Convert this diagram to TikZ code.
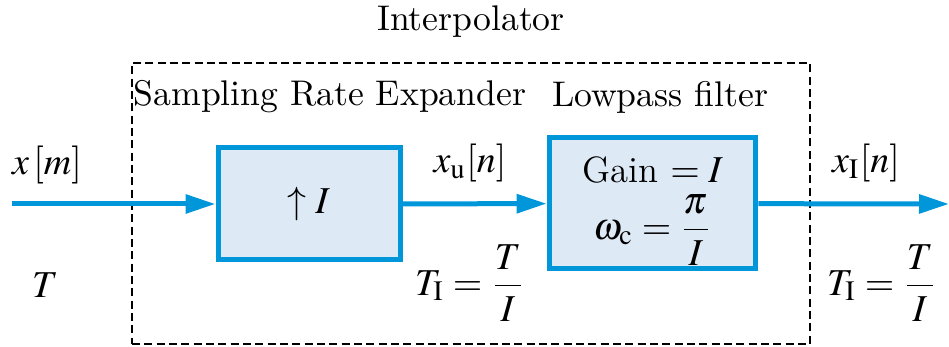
\documentclass[tikz,border=0pt]{standalone}
\usepackage{amsmath}
\usepackage{mathptmx}
\renewcommand{\rmdefault}{lmr}
\usepackage{tikz}
\usetikzlibrary{arrows.meta}
\definecolor{sigcol}{RGB}{0,150,218}
\definecolor{blkfill}{RGB}{222,233,246}

\begin{document}
\begin{tikzpicture}[x=0.3pt,y=-0.3pt,
  nodes={font=\fontsize{11.4}{14}\selectfont},
  txt/.style={font=\fontsize{10.7}{13}\selectfont},
  blk/.style={draw=sigcol,line width=1.5pt,fill=blkfill,inner sep=0pt},
  sig/.style={sigcol,line width=1.5pt,-{Triangle[length=9pt,width=5.5pt]}}]
\useasboundingbox (0,0) rectangle (949,347);
% interpolator frame
\node (frame) [draw,line width=0.6pt,dash pattern=on 2.4pt off 1.3pt,
  minimum width=203.4pt,minimum height=84.3pt] at (471,203.5) {};
\node (title) [txt] at (471,22) {Interpolator};
\node (exptxt) [txt] at (330,97) {Sampling Rate Expander};
\node (lpftxt) [txt] at (660,97) {Lowpass filter};
% blocks
\node (up) [blk,minimum width=54.6pt,minimum height=33.6pt] at (309,204) {$\uparrow I$};
\node (lpf) [blk,minimum width=62pt,minimum height=39.3pt,align=center] at (652.5,203.5)
  {\rule{0pt}{12.2pt}{\fontsize{11}{13}\selectfont Gain} $= I$\\[3pt]
   $\omega_{\mathrm{c}} = \dfrac{\pi}{I}$};
\coordinate (in) at (12,204);
\coordinate (out) at (949,204);
% signals
\draw[sig] (in) -- (up);
\draw[sig] (up) -- (lpf);
\draw[sig] (lpf) -- (out);
\node (xm) at (47,165) {$x\,[m]$};
\node (tin) at (45,285) {$T$};
\node (xu) at (470,163) {$x_{\mathrm{u}}[n]$};
\node (tu) at (470,283) {$T_{\mathrm{I}} = \dfrac{T}{I}$};
\node (xi) at (866,163) {$x_{\mathrm{I}}[n]$};
\node (ti) at (882,283) {$T_{\mathrm{I}} = \dfrac{T}{I}$};
\end{tikzpicture}
\end{document}
